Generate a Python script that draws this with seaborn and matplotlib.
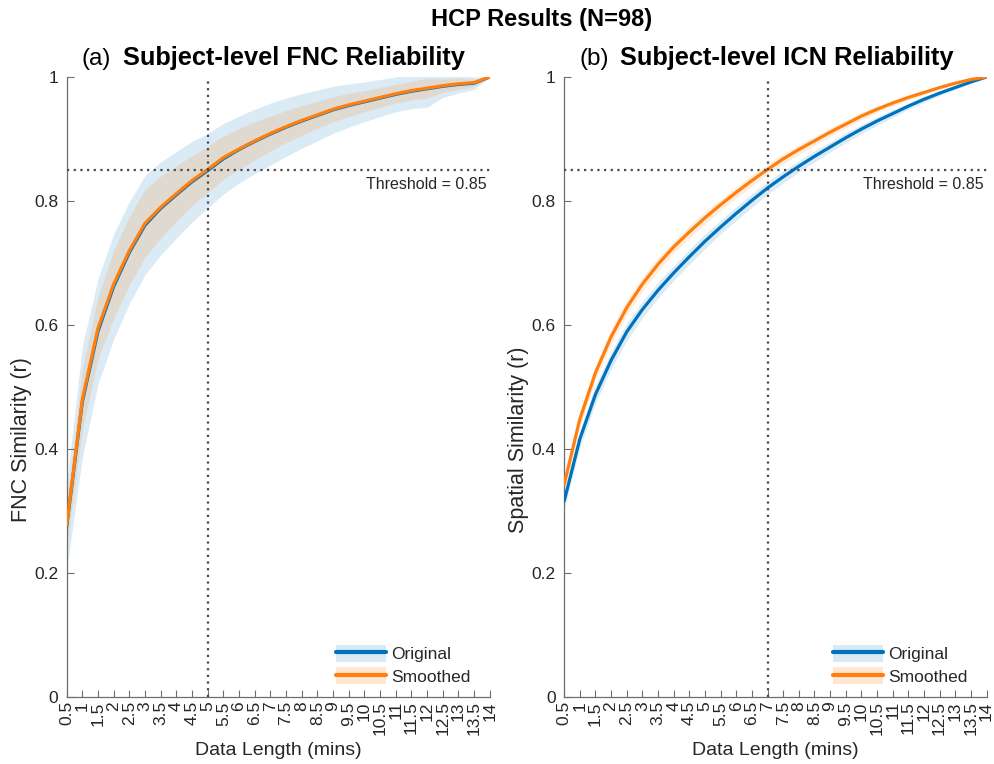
import numpy as np
import pandas as pd
import matplotlib
matplotlib.use("Agg")
import matplotlib.pyplot as plt
import seaborn as sns
from matplotlib.patches import Patch
from matplotlib.lines import Line2D

# ---------------- data ----------------
data_length = [0.5, 1, 1.5, 2, 2.5, 3, 3.5, 4, 4.5, 5, 5.5, 6, 6.5, 7, 7.5,
               8, 8.5, 9, 9.5, 10, 10.5, 11, 11.5, 12, 12.5, 13, 13.5, 14]
tick_labels = ["0.5", "1", "1.5", "2", "2.5", "3", "3.5", "4", "4.5", "5", "5.5",
               "6", "6.5", "7", "7.5", "8", "8.5", "9", "9.5", "10", "10.5", "11",
               "11.5", "12", "12.5", "13", "13.5", "14"]

fnc_original = [0.275, 0.476, 0.590, 0.662, 0.717, 0.761, 0.788, 0.810, 0.831, 0.849,
                0.868, 0.883, 0.896, 0.908, 0.919, 0.929, 0.938, 0.947, 0.954, 0.960,
                0.966, 0.972, 0.977, 0.981, 0.985, 0.988, 0.990, 1.0]
fnc_original_sd = [0.070, 0.090, 0.085, 0.085, 0.082, 0.080, 0.075, 0.070, 0.065, 0.060,
                   0.057, 0.054, 0.052, 0.050, 0.047, 0.044, 0.041, 0.038, 0.035, 0.032,
                   0.030, 0.028, 0.028, 0.030, 0.018, 0.014, 0.010, 0.0]
fnc_smoothed = [0.277, 0.480, 0.595, 0.666, 0.720, 0.764, 0.790, 0.812, 0.833, 0.851,
                0.870, 0.884, 0.897, 0.909, 0.920, 0.930, 0.939, 0.948, 0.955, 0.961,
                0.967, 0.973, 0.978, 0.982, 0.986, 0.989, 0.991, 1.0]
fnc_smoothed_sd = [0.035, 0.050, 0.050, 0.055, 0.055, 0.055, 0.050, 0.045, 0.040, 0.037,
                   0.035, 0.033, 0.031, 0.028, 0.026, 0.024, 0.022, 0.020, 0.019, 0.017,
                   0.016, 0.015, 0.015, 0.016, 0.011, 0.009, 0.006, 0.0]

icn_original = [0.316, 0.416, 0.488, 0.543, 0.589, 0.625, 0.656, 0.684, 0.710, 0.735,
                0.758, 0.780, 0.801, 0.821, 0.839, 0.856, 0.872, 0.887, 0.902, 0.916,
                0.929, 0.941, 0.953, 0.964, 0.974, 0.983, 0.992, 1.0]
icn_original_sd = [0.013, 0.014, 0.014, 0.014, 0.014, 0.013, 0.013, 0.012, 0.012, 0.012,
                   0.011, 0.011, 0.011, 0.010, 0.010, 0.009, 0.009, 0.008, 0.008, 0.007,
                   0.007, 0.006, 0.005, 0.005, 0.004, 0.003, 0.002, 0.0]
icn_smoothed = [0.343, 0.448, 0.523, 0.581, 0.628, 0.666, 0.698, 0.726, 0.750, 0.773,
                0.794, 0.814, 0.833, 0.851, 0.868, 0.883, 0.897, 0.911, 0.924, 0.937,
                0.948, 0.958, 0.967, 0.975, 0.983, 0.990, 0.996, 1.0]
icn_smoothed_sd = [0.011, 0.012, 0.012, 0.012, 0.012, 0.011, 0.011, 0.010, 0.010, 0.010,
                   0.009, 0.009, 0.009, 0.008, 0.008, 0.008, 0.007, 0.007, 0.006, 0.006,
                   0.005, 0.005, 0.004, 0.004, 0.003, 0.002, 0.001, 0.0]

threshold = 0.85
fnc_cross = 5
icn_cross = 7

# ---------------- style ----------------
sns.set_style("ticks")
plt.rcParams["font.family"] = ["Liberation Sans", "DejaVu Sans"]

BLUE = "#0072BD"
ORANGE = "#FF7F0E"
SPINE = "#6e6e6e"
TXT = "#262626"

fig = plt.figure(figsize=(9.95, 7.64), dpi=100)
ax_a = fig.add_axes([0.067, 0.0877, 0.4252, 0.8115])
ax_b = fig.add_axes([0.567, 0.0877, 0.4245, 0.8115])


def panel(ax, orig, orig_sd, smooth, smooth_sd, cross, ylabel, tag, title,
          band_alpha_b, band_alpha_o):
    df = pd.DataFrame({
        "Data Length": data_length * 2,
        "r": list(orig) + list(smooth),
        "Series": ["Original"] * len(orig) + ["Smoothed"] * len(smooth),
    })
    o = np.array(orig); os_ = np.array(orig_sd)
    s = np.array(smooth); ss = np.array(smooth_sd)
    ax.fill_between(data_length, o - os_, o + os_, color=BLUE, alpha=band_alpha_b,
                    linewidth=0, zorder=1)
    ax.fill_between(data_length, s - ss, s + ss, color=ORANGE, alpha=band_alpha_o,
                    linewidth=0, zorder=1)
    sns.lineplot(data=df, x="Data Length", y="r", hue="Series",
                 palette={"Original": BLUE, "Smoothed": ORANGE},
                 linewidth=2.3, ax=ax, legend=False, zorder=3)
    # dotted guides
    ax.axhline(threshold, color="#4a4a4a", linestyle=(0, (1, 2)), linewidth=1.6, zorder=4)
    ax.plot([cross, cross], [0, 1], color="#4a4a4a", linestyle=(0, (1, 2)),
            linewidth=1.6, zorder=4)
    ax.text(13.9, 0.826, "Threshold = 0.85", ha="right", va="center",
            fontsize=11.5, color=TXT)

    ax.set_xlim(0.5, 14)
    ax.set_ylim(0, 1)
    ax.set_xticks(data_length)
    ax.set_xticklabels(tick_labels, rotation=90, fontsize=12.5, color=TXT)
    ax.set_yticks([0, 0.2, 0.4, 0.6, 0.8, 1])
    ax.set_yticklabels(["0", "0.2", "0.4", "0.6", "0.8", "1"], fontsize=12.5, color=TXT)
    ax.tick_params(direction="in", length=5, width=0.8, color=SPINE)
    ax.tick_params(axis="x", pad=3)
    ax.tick_params(axis="y", pad=6)
    for sp in ["top", "right"]:
        ax.spines[sp].set_visible(False)
    for sp in ["left", "bottom"]:
        ax.spines[sp].set_color(SPINE)
        ax.spines[sp].set_linewidth(0.9)
    ax.set_xlabel("Data Length (mins)", fontsize=14, color=TXT, labelpad=5)
    ax.set_ylabel(ylabel, fontsize=15.5, color=TXT)
    ax.yaxis.set_label_coords(-0.083, 0.415)

    # title: normal tag + bold text
    ax.text(0.036, 1.012, tag, transform=ax.transAxes, fontsize=17.5, color="black",
            ha="left", va="bottom")
    ax.text(0.133, 1.012, title, transform=ax.transAxes, fontsize=18.3,
            fontweight="bold", color="black", ha="left", va="bottom")

    handles = [
        (Patch(facecolor=BLUE, alpha=0.15, edgecolor="none"),
         Line2D([], [], color=BLUE, linewidth=3)),
        (Patch(facecolor=ORANGE, alpha=0.18, edgecolor="none"),
         Line2D([], [], color=ORANGE, linewidth=3)),
    ]
    ax.legend(handles, ["Original", "Smoothed"], loc="lower right",
              bbox_to_anchor=(0.98, 0.003), frameon=False, fontsize=12.5,
              handlelength=2.9, handleheight=1.1, handletextpad=0.3,
              labelspacing=0.3, borderaxespad=0.2)


panel(ax_a, fnc_original, fnc_original_sd, fnc_smoothed, fnc_smoothed_sd, fnc_cross,
      "FNC Similarity (r)", "(a)", "Subject-level FNC Reliability", 0.14, 0.16)
panel(ax_b, icn_original, icn_original_sd, icn_smoothed, icn_smoothed_sd, icn_cross,
      "Spatial Similarity (r)", "(b)", "Subject-level ICN Reliability", 0.14, 0.14)

fig.text(0.544, 0.975, "HCP Results (N=98)", ha="center", va="center",
         fontsize=17, fontweight="bold", color="black")

fig.savefig("out.png", dpi=100)
